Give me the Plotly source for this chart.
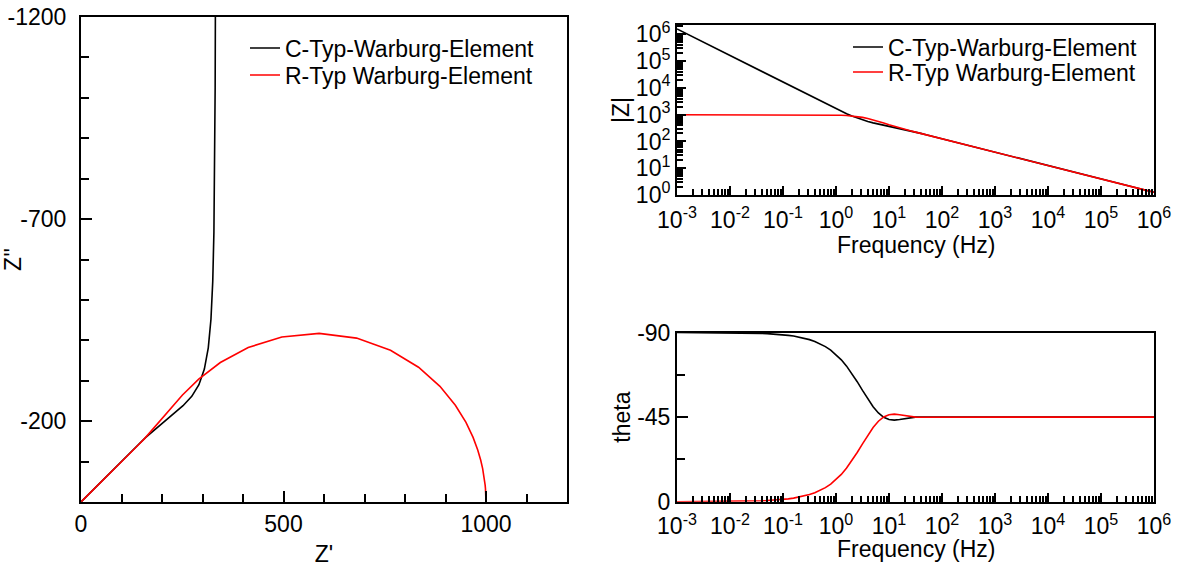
import numpy as np
import plotly.graph_objects as go

# ---------------- data ----------------
freq = [
    1.000e-3, 1.259e-3, 1.585e-3, 1.995e-3, 2.512e-3, 3.162e-3, 3.981e-3, 5.012e-3, 6.310e-3, 7.943e-3,
    1.000e-2, 1.259e-2, 1.585e-2, 1.995e-2, 2.512e-2, 3.162e-2, 3.981e-2, 5.012e-2, 6.310e-2, 7.943e-2,
    1.000e-1, 1.259e-1, 1.585e-1, 1.995e-1, 2.512e-1, 3.162e-1, 3.981e-1, 5.012e-1, 6.310e-1, 7.943e-1,
    1.000e0, 1.259e0, 1.585e0, 1.995e0, 2.512e0, 3.162e0, 3.981e0, 5.012e0, 6.310e0, 7.943e0,
    1.000e1, 1.259e1, 1.585e1, 1.995e1, 2.512e1, 3.162e1, 3.981e1, 5.012e1, 6.310e1, 7.943e1,
    1.000e2, 1.259e2, 1.585e2, 1.995e2, 2.512e2, 3.162e2, 3.981e2, 5.012e2, 6.310e2, 7.943e2,
    1.000e3, 1.259e3, 1.585e3, 1.995e3, 2.512e3, 3.162e3, 3.981e3, 5.012e3, 6.310e3, 7.943e3,
    1.000e4, 1.259e4, 1.585e4, 1.995e4, 2.512e4, 3.162e4, 3.981e4, 5.012e4, 6.310e4, 7.943e4,
    1.000e5, 1.259e5, 1.585e5, 1.995e5, 2.512e5, 3.162e5, 3.981e5, 5.012e5, 6.310e5, 7.943e5,
    1.000e6,
]

# R-Typ Warburg-Element: Z' and Z''
r_re = [
    1000.0, 1000.0, 1000.0, 1000.0, 1000.0, 1000.0, 1000.0, 1000.0, 1000.0, 1000.0,
    999.99, 999.99, 999.99, 999.98, 999.97, 999.95, 999.92, 999.87, 999.79, 999.67,
    999.47, 999.17, 998.68, 997.91, 996.69, 994.77, 991.74, 986.99, 979.57, 968.09,
    950.56, 924.34, 886.27, 833.38, 764.17, 680.39, 587.98, 495.89, 412.81, 344.05,
    290.65, 250.55, 220.26, 196.37, 176.18, 158.07, 141.38, 126.10, 112.35, 100.09,
    89.21, 79.51, 70.86, 63.15, 56.29, 50.16, 44.71, 39.85, 35.51, 31.65,
    28.21, 25.14, 22.41, 19.97, 17.80, 15.86, 14.14, 12.60, 11.23, 10.01,
    8.921, 7.951, 7.086, 6.315, 5.629, 5.016, 4.471, 3.985, 3.551, 3.165,
    2.821, 2.514, 2.241, 1.997, 1.780, 1.586, 1.414, 1.260, 1.123, 1.001,
    0.892,
]
r_im = [
    -0.2094, -0.2637, -0.3319, -0.4179, -0.5261, -0.6623, -0.8338, -1.0497, -1.3215, -1.6636,
    -2.094, -2.637, -3.319, -4.179, -5.261, -6.623, -8.337, -10.495, -13.211, -16.630,
    -20.93, -26.34, -33.14, -41.68, -52.40, -65.81, -82.54, -103.31, -128.87, -159.93,
    -196.87, -239.45, -286.11, -333.37, -375.52, -405.48, -417.18, -408.45, -382.24, -345.10,
    -304.15, -264.88, -230.33, -201.46, -177.76, -158.04, -141.04, -125.92, -112.32, -100.09,
    -89.21, -79.51, -70.86, -63.15, -56.29, -50.16, -44.71, -39.85, -35.51, -31.65,
    -28.21, -25.14, -22.41, -19.97, -17.80, -15.86, -14.14, -12.60, -11.23, -10.01,
    -8.921, -7.951, -7.086, -6.315, -5.629, -5.016, -4.471, -3.985, -3.551, -3.165,
    -2.821, -2.514, -2.241, -1.997, -1.780, -1.586, -1.414, -1.260, -1.123, -1.001,
    -0.892,
]

# C-Typ-Warburg-Element: Z' and Z''
c_re = [
    333.33, 333.33, 333.33, 333.33, 333.33, 333.33, 333.33, 333.33, 333.33, 333.33,
    333.33, 333.33, 333.33, 333.33, 333.33, 333.33, 333.33, 333.33, 333.33, 333.33,
    333.32, 333.32, 333.31, 333.30, 333.28, 333.25, 333.20, 333.12, 333.00, 332.81,
    332.50, 332.02, 331.26, 330.06, 328.19, 325.30, 320.88, 314.26, 304.62, 291.18,
    273.50, 251.90, 227.73, 203.03, 179.81, 159.20, 141.38, 125.91, 112.26, 100.09,
    89.21, 79.51, 70.86, 63.15, 56.29, 50.16, 44.71, 39.85, 35.51, 31.65,
    28.21, 25.14, 22.41, 19.97, 17.80, 15.86, 14.14, 12.60, 11.23, 10.01,
    8.921, 7.951, 7.086, 6.315, 5.629, 5.016, 4.471, 3.985, 3.551, 3.165,
    2.821, 2.514, 2.241, 1.997, 1.780, 1.586, 1.414, 1.260, 1.123, 1.001,
    0.892,
]
c_im = [
    -1591549, -1264225, -1004204, -797663, -633611, -503292, -399779, -317556, -252243, -200364,
    -159155.0, -126422.7, -100420.6, -79766.6, -63361.4, -50329.6, -39978.5, -31756.3, -25225.2, -20037.5,
    -15916.9, -12644.0, -10044.3, -7979.4, -6339.6, -5037.3, -4003.3, -3182.6, -2531.2, -2014.7,
    -1605.46, -1281.69, -1026.11, -825.11, -667.86, -545.85, -452.26, -381.54, -328.98, -290.30,
    -261.37, -238.27, -217.77, -197.90, -178.21, -159.23, -141.72, -126.09, -112.29, -100.09,
    -89.21, -79.51, -70.86, -63.15, -56.29, -50.16, -44.71, -39.85, -35.51, -31.65,
    -28.21, -25.14, -22.41, -19.97, -17.80, -15.86, -14.14, -12.60, -11.23, -10.01,
    -8.921, -7.951, -7.086, -6.315, -5.629, -5.016, -4.471, -3.985, -3.551, -3.165,
    -2.821, -2.514, -2.241, -1.997, -1.780, -1.586, -1.414, -1.260, -1.123, -1.001,
    -0.892,
]

names = ["C-Typ-Warburg-Element", "R-Typ Warburg-Element"]
colors = ["#000000", "#ff0000"]

nyq_x_ticks = [0, 500, 1000]
nyq_y_ticks = [-200, -700, -1200]
nyq_y_ticktext = ["-200", "-700", "-1200"]
theta_ticks = [-90, -45, 0]
theta_ticktext = ["-90", "-45", "0"]
freq_ticks = [1e-3, 1e-2, 1e-1, 1e0, 1e1, 1e2, 1e3, 1e4, 1e5, 1e6]
freq_ticktext = ["10<sup>-3</sup>", "10<sup>-2</sup>", "10<sup>-1</sup>", "10<sup>0</sup>",
                 "10<sup>1</sup>", "10<sup>2</sup>", "10<sup>3</sup>", "10<sup>4</sup>",
                 "10<sup>5</sup>", "10<sup>6</sup>"]
mag_ticks = [1e0, 1e1, 1e2, 1e3, 1e4, 1e5, 1e6]
mag_ticktext = ["10<sup>0</sup>", "10<sup>1</sup>", "10<sup>2</sup>", "10<sup>3</sup>",
                "10<sup>4</sup>", "10<sup>5</sup>", "10<sup>6</sup>"]

# derived Bode quantities
series = [(np.array(c_re), np.array(c_im)), (np.array(r_re), np.array(r_im))]

FONT = "Arial, Liberation Sans, sans-serif"
FS = 23
W, H = 1178, 567
LW = 1.6

fig = go.Figure()
nyq_leg = ["legend", "legend2"]
bode_leg = ["legend3", "legend4"]
for (re, im), name, col, lg in zip(series, names, colors, nyq_leg):
    fig.add_trace(go.Scatter(x=re, y=im, mode="lines", name=name,
                             line=dict(color=col, width=LW),
                             xaxis="x", yaxis="y", legend=lg))
for (re, im), name, col, lg in zip(series, names, colors, bode_leg):
    fig.add_trace(go.Scatter(x=freq, y=np.hypot(re, im), mode="lines", name=name,
                             line=dict(color=col, width=LW),
                             xaxis="x2", yaxis="y2", legend=lg))
for (re, im), name, col in zip(series, names, colors):
    fig.add_trace(go.Scatter(x=freq, y=np.degrees(np.arctan2(im, re)), mode="lines", name=name,
                             line=dict(color=col, width=LW), showlegend=False,
                             xaxis="x3", yaxis="y3"))

def px_x(a, b):
    return [a / W, b / W]

def px_y(top, bottom):
    return [(H - bottom) / H, (H - top) / H]

tick_font = dict(family=FONT, size=FS, color="black")
axis_common = dict(showline=True, linecolor="black", linewidth=2, mirror=True,
                   ticks="inside", tickcolor="black", tickwidth=1.5,
                   showgrid=False, zeroline=False, automargin=False,
                   tickfont=tick_font, title_font=tick_font)
minor_lin = dict(ticks="inside", ticklen=8, tickwidth=1.5, tickcolor="black", showgrid=False)
minor_log = dict(ticks="inside", dtick="D1", ticklen=6, tickwidth=1.5, tickcolor="black", showgrid=False)

def leg(xpx, ypx):
    return dict(x=xpx / W, y=(H - ypx) / H, xanchor="left", yanchor="middle",
                bgcolor="rgba(0,0,0,0)", borderwidth=0,
                font=dict(family=FONT, size=FS, color="black"))

def freq_title(ypx):
    return dict(text="Frequency (Hz)", x=915.5 / W, y=(H - ypx) / H, xref="paper", yref="paper",
                xanchor="center", yanchor="middle", showarrow=False,
                font=dict(family=FONT, size=FS, color="black"))

fig.update_layout(
    template="none",
    width=W, height=H,
    margin=dict(l=0, r=0, t=0, b=0, autoexpand=False),
    paper_bgcolor="white", plot_bgcolor="white",
    font=dict(family=FONT, size=FS, color="black"),
    xaxis=dict(axis_common, domain=px_x(81, 567), anchor="y", range=[0, 1200],
               tickmode="array", tickvals=nyq_x_ticks, ticklen=11,
               minor=dict(minor_lin, dtick=100, tick0=0),
               title=dict(text="Z'", standoff=10)),
    yaxis=dict(axis_common, domain=px_y(17, 502), anchor="x", range=[0, -1200],
               tickmode="array", tickvals=nyq_y_ticks, ticktext=nyq_y_ticktext, ticklen=11,
               minor=dict(minor_lin, dtick=100, tick0=0),
               ticklabelstandoff=8,
               title=dict(text="Z''", standoff=0)),
    xaxis2=dict(axis_common, domain=px_x(677, 1154), anchor="y2", type="log", range=[-3, 6],
                tickmode="array", tickvals=freq_ticks, ticktext=freq_ticktext, ticklen=9,
                ticklabelstandoff=3, minor=minor_log),
    yaxis2=dict(axis_common, domain=px_y(25, 195), anchor="x2", type="log", range=[0, 6.35],
                tickmode="array", tickvals=mag_ticks, ticktext=mag_ticktext, ticklen=9,
                minor=minor_log,
                title=dict(text="|Z|", standoff=0)),
    xaxis3=dict(axis_common, domain=px_x(677, 1154), anchor="y3", type="log", range=[-3, 6],
                tickmode="array", tickvals=freq_ticks, ticktext=freq_ticktext, ticklen=9,
                ticklabelstandoff=3, minor=minor_log),
    yaxis3=dict(axis_common, domain=px_y(332.5, 501.7), anchor="x3", range=[0, -90],
                tickmode="array", tickvals=theta_ticks, ticktext=theta_ticktext, ticklen=11,
                minor=dict(minor_lin, dtick=22.5, tick0=0),
                title=dict(text="theta", standoff=0)),
    legend=leg(245, 48),
    legend2=leg(245, 75),
    legend3=leg(848, 47),
    legend4=leg(848, 72),
    annotations=[freq_title(245), freq_title(549)],
)

fig.write_html("out.html")
